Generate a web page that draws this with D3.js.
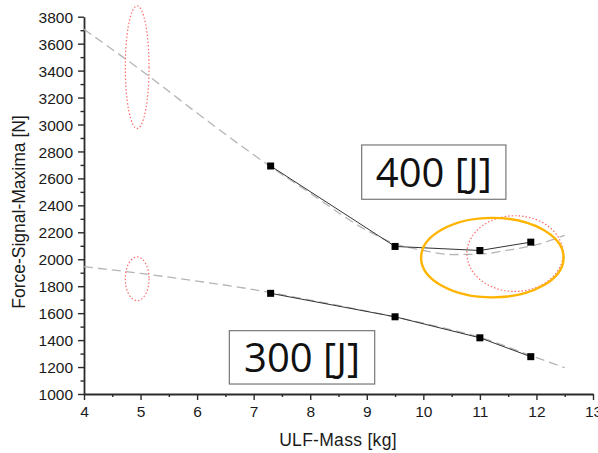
<!DOCTYPE html>
<html>
<head>
<meta charset="utf-8">
<script src="https://cdn.jsdelivr.net/npm/d3@7"></script>
<style>
  body { margin: 0; background: #fff; }
  svg text { font-family: Arial, "Liberation Sans", sans-serif; fill: #1a1a1a; }
  .ticklabel { font-size: 15.5px; }
  .axislabel { font-size: 17.5px; }
  .energylabel { font-family: "Open Sans", "Noto Sans", sans-serif !important; font-size: 40px; fill: #111; }
</style>
</head>
<body>
<div id="chart"></div>
<script>
// measured points (ULF mass kg, force signal maxima N)
const mass = [7.3, 9.5, 11.0, 11.9];
const force400 = [2692, 2095, 2065, 2127];
const force300 = [1747, 1573, 1417, 1277];

// dashed fit curves
const fitMass400 = [4, 5, 6, 7, 8, 9, 9.5, 10, 10.5, 11, 11.5, 12, 12.5];
const fitForce400 = [3706, 3405, 3085, 2775, 2490, 2215, 2115, 2065, 2035, 2038, 2068, 2108, 2178];
const fitMass300 = [4, 5, 6, 7, 8, 9, 10, 11, 12, 12.5];
const fitForce300 = [1945, 1895, 1838, 1775, 1697, 1615, 1525, 1420, 1270, 1195];

// axis ticks
const xTicks = [4, 5, 6, 7, 8, 9, 10, 11, 12, 13];
const yTicks = [1000, 1200, 1400, 1600, 1800, 2000, 2200, 2400, 2600, 2800, 3000, 3200, 3400, 3600, 3800];

// highlight ellipses in data units: [cx, cy, rx, ry]
const redMarks = [[4.94, 3425, 0.21, 455], [4.94, 1855, 0.21, 162], [11.62, 2042, 0.85, 281]];
const orangeMark = [11.22, 2012, 1.26, 295];

// label boxes: [text, left x, top y, right x, bottom y] in data units
const boxLabels = [
  ["400 [J]", 8.91, 2848, 11.46, 2445],
  ["300 [J]", 6.57, 1470, 9.14, 1074]
];

const width = 598, height = 453;

let x = d3.scaleLinear().domain([4, 13]).range([84, 593]);
let y = d3.scaleLinear().domain([1000, 3800]).range([394, 16.7]);

let svg = d3.select("#chart").append("svg")
  .attr("width", width).attr("height", height);

// axes
let xAxis = d3.axisBottom(x).tickValues(xTicks).tickSize(6).tickSizeOuter(0).tickFormat(d3.format("d"));
let xMinor = d3.axisBottom(x).tickValues(d3.range(4.5, 13, 1)).tickSize(3).tickFormat("");
let yAxis = d3.axisLeft(y).tickValues(yTicks).tickSize(6).tickSizeOuter(0).tickFormat(d3.format("d"));
let yMinor = d3.axisLeft(y).tickValues(d3.range(1100, 3800, 200)).tickSize(3.5).tickFormat("");

let gx = svg.append("g").attr("transform", "translate(0,394)").call(xAxis);
svg.append("g").attr("transform", "translate(0,394)").call(xMinor).select(".domain").remove();
let gy = svg.append("g").attr("transform", "translate(84,0)").call(yAxis);
svg.append("g").attr("transform", "translate(84,0)").call(yMinor).select(".domain").remove();

svg.selectAll(".domain").attr("stroke", "#2a2a2a").attr("stroke-width", 1.8);
svg.selectAll(".tick line").attr("stroke", "#2a2a2a").attr("stroke-width", 1.4);

gx.selectAll(".tick text").attr("class", "ticklabel").attr("y", 12).attr("dy", "0.71em");
gy.selectAll(".tick text").attr("class", "ticklabel").attr("x", -11).attr("dy", "0.36em");

svg.append("text")
  .attr("class", "axislabel")
  .attr("text-anchor", "middle")
  .attr("x", 338).attr("y", 446)
  .style("letter-spacing", "0.3px")
  .text("ULF-Mass [kg]");

svg.append("text")
  .attr("class", "axislabel")
  .attr("text-anchor", "middle")
  .attr("transform", "translate(25,212) rotate(-90)")
  .text("Force-Signal-Maxima [N]");

// dashed fits
let fitLine = d3.line().curve(d3.curveMonotoneX)
  .x(d => x(d[0])).y(d => y(d[1]));

[[fitMass400, fitForce400], [fitMass300, fitForce300]].forEach(([mx, fy]) => {
  svg.append("path")
    .datum(mx.map((m, i) => [m, fy[i]]))
    .attr("d", fitLine)
    .attr("fill", "none")
    .attr("stroke", "#b5b5b5")
    .attr("stroke-width", 1.3)
    .attr("stroke-dasharray", "9,5");
});

// measured lines + square markers
let dataLine = d3.line().x(d => x(d[0])).y(d => y(d[1]));

[force400, force300].forEach(fs => {
  let pts = mass.map((m, i) => [m, fs[i]]);
  svg.append("path")
    .datum(pts)
    .attr("d", dataLine)
    .attr("fill", "none")
    .attr("stroke", "#333")
    .attr("stroke-width", 1);
  svg.selectAll(null)
    .data(pts)
    .enter().append("rect")
    .attr("x", d => x(d[0]) - 3.5)
    .attr("y", d => y(d[1]) - 3.5)
    .attr("width", 7).attr("height", 7)
    .attr("fill", "#000");
});

// ellipses
svg.selectAll("ellipse.red")
  .data(redMarks)
  .enter().append("ellipse")
  .attr("class", "red")
  .attr("cx", d => x(d[0]))
  .attr("cy", d => y(d[1]))
  .attr("rx", d => x(d[0] + d[2]) - x(d[0]))
  .attr("ry", d => y(d[1]) - y(d[1] + d[3]))
  .attr("fill", "none")
  .attr("stroke", "#ff6b6b")
  .attr("stroke-width", 1.2)
  .attr("stroke-dasharray", "1.5,2");

svg.append("ellipse")
  .attr("cx", x(orangeMark[0]))
  .attr("cy", y(orangeMark[1]))
  .attr("rx", x(orangeMark[0] + orangeMark[2]) - x(orangeMark[0]))
  .attr("ry", y(orangeMark[1]) - y(orangeMark[1] + orangeMark[3]))
  .attr("fill", "none")
  .attr("stroke", "#ffb400")
  .attr("stroke-width", 2.4);

// energy boxes
let boxes = svg.selectAll("g.box")
  .data(boxLabels)
  .enter().append("g").attr("class", "box");

boxes.append("rect")
  .attr("x", d => x(d[1]))
  .attr("y", d => y(d[2]))
  .attr("width", d => x(d[3]) - x(d[1]))
  .attr("height", d => y(d[4]) - y(d[2]))
  .attr("fill", "#fff")
  .attr("stroke", "#777")
  .attr("stroke-width", 1.2);

boxes.append("text")
  .attr("class", "energylabel")
  .attr("text-anchor", "middle")
  .attr("x", d => (x(d[1]) + x(d[3])) / 2)
  .attr("y", d => (y(d[2]) + y(d[4])) / 2)
  .attr("dy", "0.36em")
  .text(d => d[0]);
</script>
</body>
</html>
